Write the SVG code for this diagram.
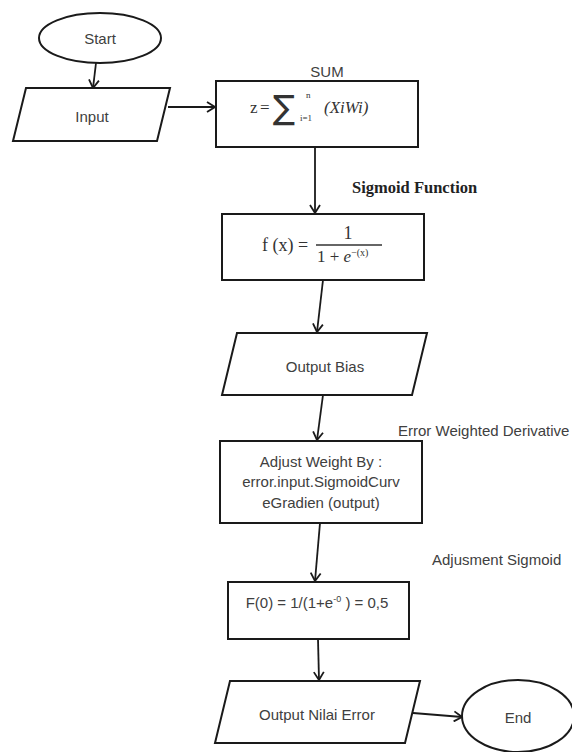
<svg xmlns="http://www.w3.org/2000/svg" width="572" height="752" viewBox="0 0 572 752">
<defs>
<style>
.shape{fill:#fff;stroke:#1a1a1a;stroke-width:2}
.conn{fill:none;stroke:#1a1a1a;stroke-width:1.8}
.t{font-family:"Liberation Sans",Arial,sans-serif;font-size:15px;fill:#404040;text-anchor:middle}
.lbl{font-family:"Liberation Sans",Arial,sans-serif;font-size:15px;fill:#404040}
.m{font-family:"Liberation Serif","Times New Roman",serif;fill:#333}
.b{font-family:"Liberation Serif","Times New Roman",serif;font-weight:bold;font-size:16.5px;fill:#222}
</style>
<marker id="arr" viewBox="0 0 10 12" refX="9" refY="6" markerWidth="10" markerHeight="12" markerUnits="userSpaceOnUse" orient="auto">
<path d="M1,1 L9,6 L1,11" fill="none" stroke="#1a1a1a" stroke-width="1.8"/>
</marker>
</defs>
<rect width="572" height="752" fill="#fff"/>
<g id="connectors">
<line class="conn" x1="96" y1="63" x2="93" y2="88" marker-end="url(#arr)"/>
<line class="conn" x1="168" y1="107" x2="215" y2="107" marker-end="url(#arr)"/>
<line class="conn" x1="315" y1="147" x2="315" y2="213" marker-end="url(#arr)"/>
<line class="conn" x1="323" y1="280" x2="317" y2="332" marker-end="url(#arr)"/>
<line class="conn" x1="323" y1="395" x2="317" y2="440" marker-end="url(#arr)"/>
<line class="conn" x1="320" y1="523" x2="315" y2="581" marker-end="url(#arr)"/>
<line class="conn" x1="318" y1="639" x2="319" y2="680" marker-end="url(#arr)"/>
<line class="conn" x1="413" y1="713" x2="462" y2="717" marker-end="url(#arr)"/>
</g>
<g id="start">
<ellipse class="shape" cx="100" cy="38" rx="61" ry="25"/>
<text class="t" x="100" y="44">Start</text>
</g>
<g id="input">
<polygon class="shape" points="26,88 170,88 157,141 13,141"/>
<text class="t" x="92" y="122">Input</text>
</g>
<g id="sum">
<text class="t" x="327" y="77">SUM</text>
<rect class="shape" x="216" y="81" width="202" height="66"/>
<text class="m" x="250" y="113" font-size="17">z</text>
<text class="m" x="260" y="113" font-size="17">=</text>
<text x="273" y="119" font-size="33" font-family="'DejaVu Sans',sans-serif" fill="#333">∑</text>
<text class="m" x="306" y="98" font-size="9">n</text>
<text class="m" x="300" y="121" font-size="9">i=1</text>
<text class="m" x="324" y="113" font-size="17" font-style="italic">(XiWi)</text>
</g>
<text id="sigmoid-label" class="b" x="352" y="193">Sigmoid Function</text>
<g id="sigmoid">
<rect class="shape" x="222" y="214" width="202" height="66"/>
<text class="m" x="262" y="251" font-size="18">f (x) =</text>
<text class="m" x="348" y="239" font-size="18" text-anchor="middle">1</text>
<line x1="316" y1="245" x2="382" y2="245" stroke="#333" stroke-width="1.3"/>
<text class="m" x="317" y="262" font-size="17">1 + <tspan font-style="italic">e</tspan><tspan font-size="10" dy="-6">−(x)</tspan></text>
</g>
<g id="output-bias">
<polygon class="shape" points="237,333 427,333 412,395 222,395"/>
<text class="t" x="325" y="372">Output Bias</text>
</g>
<text id="ewd-label" class="lbl" x="398" y="436">Error Weighted Derivative</text>
<g id="adjust">
<rect class="shape" x="220" y="441" width="202" height="82"/>
<text class="t" x="321" y="467">Adjust Weight By :</text>
<text class="t" x="321" y="487">error.input.SigmoidCurv</text>
<text class="t" x="321" y="508">eGradien (output)</text>
</g>
<text id="adj-label" class="lbl" x="432" y="565">Adjusment Sigmoid</text>
<g id="f0">
<rect class="shape" x="228" y="582" width="181" height="57"/>
<text class="t" x="317" y="608">F(0) = 1/(1+e<tspan font-size="9" dy="-6">-0</tspan><tspan dy="6"> ) = 0,5</tspan></text>
</g>
<g id="output-error">
<polygon class="shape" points="230,681 420,681 405,743 215,743"/>
<text class="t" x="317" y="720">Output Nilai Error</text>
</g>
<g id="end">
<ellipse class="shape" cx="518" cy="716" rx="56" ry="36"/>
<text class="t" x="518" y="723">End</text>
</g>
</svg>
